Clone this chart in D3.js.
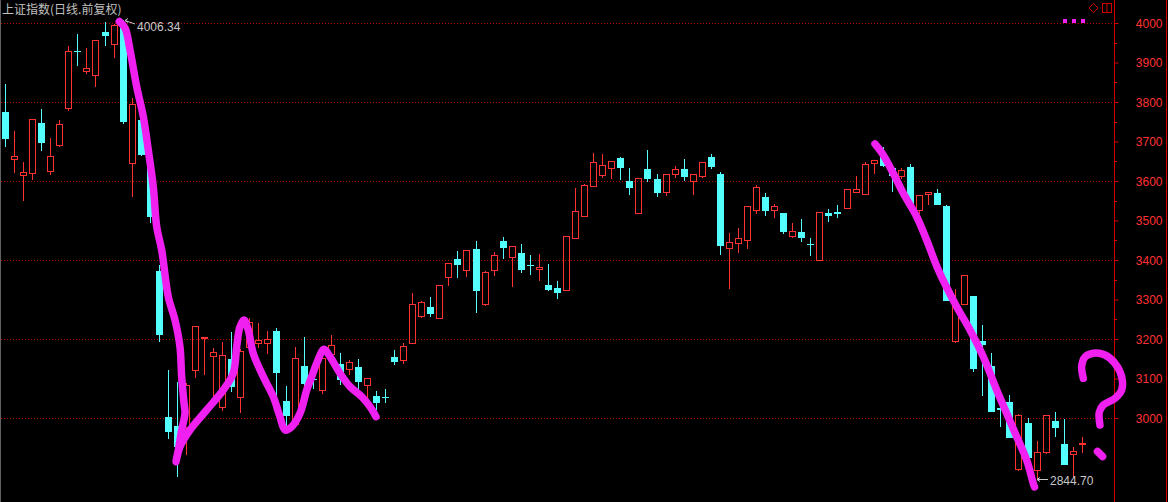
<!DOCTYPE html>
<html><head><meta charset="utf-8">
<script src="https://cdn.jsdelivr.net/npm/d3@7"></script>
<style>html,body{margin:0;padding:0;background:#000;overflow:hidden}svg{display:block}</style>
</head><body>
<svg id="chart" width="1168" height="502"></svg>
<script>
// ---------------- data (上证指数 日线 前复权) ----------------
const openVals = [3774.7,3654.9,3614.4,3621.0,3746.8,3624.5,3691.9,3785.5,3928.3,3879.2,3869.1,3977.2,3947.6,3990.0,3646.3,3754.4,3640.0,3372.1,3002.5,2979.7,
2976.4,3122.3,3201.8,3156.2,3027.1,3149.4,3052.4,3180.5,3189.1,3189.1,3220.2,3043.0,2984.8,3131.6,3098.0,3070.1,3161.3,3135.9,3124.8,3129.1,
3084.3,3055.7,3053.5,3154.4,3145.6,3190.6,3259.0,3281.0,3253.9,3356.2,3402.5,3375.4,3427.8,3289.4,3375.4,3448.1,3408.3,3417.7,3387.3,3377.9,
3336.7,3329.1,3324.8,3456.4,3512.1,3588.1,3615.9,3633.6,3657.4,3599.2,3519.7,3629.6,3604.3,3572.9,3618.5,3629.6,3600.7,3613.4,3660.0,3617.7,
3431.1,3442.3,3449.9,3525.8,3559.5,3527.3,3519.0,3461.5,3470.9,3441.0,3400.7,3518.2,3521.5,3532.4,3572.9,3567.8,3644.8,3665.8,3632.1,3613.4,
3635.4,3527.3,3566.3,3569.6,3536.7,3195.7,3289.4,3308.8,3194.9,3131.6,3026.1,3040.5,2871.6,2986.6,2868.3,2913.2,2991.6,2934.2,2908.9,2935.0];
const highVals = [3845.5,3726.6,3648.1,3756.9,3782.3,3708.8,3754.4,3941.7,3972.1,3936.7,3956.2,4002.5,3998.0,4006.34,3809.3,3770.0,3655.0,3387.3,3121.5,3091.1,
3088.6,3232.1,3205.0,3177.2,3191.6,3217.7,3175.0,3252.4,3240.5,3220.2,3228.6,3081.0,3179.7,3205.0,3117.2,3158.0,3210.1,3164.6,3146.8,3149.4,
3100.5,3068.3,3073.4,3172.1,3190.6,3316.4,3296.2,3306.3,3336.7,3392.4,3422.8,3425.3,3448.1,3372.1,3420.2,3458.2,3435.4,3440.5,3412.6,3415.2,
3389.9,3346.8,3460.7,3582.3,3593.1,3670.9,3668.3,3649.9,3660.0,3632.9,3606.8,3678.5,3616.9,3616.9,3638.0,3655.7,3616.9,3647.3,3667.6,3622.0,
3467.6,3481.0,3535.9,3589.1,3569.6,3541.8,3519.0,3493.7,3503.8,3455.7,3520.7,3529.1,3539.2,3579.0,3612.6,3648.1,3653.1,3686.1,3633.0,3632.1,
3643.0,3564.5,3571.4,3579.7,3539.2,3326.6,3361.2,3308.8,3235.4,3164.5,3030.0,3058.2,3009.3,2999.2,2941.8,3006.8,3014.4,2996.7,2926.6,2951.1];
const lowVals = [3686.8,3621.0,3550.1,3602.5,3676.7,3615.9,3686.8,3777.9,3891.1,3871.6,3838.7,3942.5,3910.6,3745.0,3560.2,3664.0,3492.9,3193.2,2947.6,2851.4,
2906.3,3102.0,3108.8,3045.6,3018.5,3066.6,3011.9,3180.5,3176.4,3162.0,3003.3,2969.6,2984.8,3045.6,3072.6,3061.5,3161.3,3083.5,3109.6,3070.9,
3050.6,3020.2,3038.7,3133.4,3137.5,3188.1,3253.9,3256.4,3253.9,3334.9,3355.2,3357.7,3266.6,3284.3,3360.2,3402.5,3332.4,3367.8,3362.7,3347.6,
3322.3,3302.0,3324.8,3456.4,3508.8,3588.1,3608.3,3605.0,3602.5,3565.3,3519.7,3598.2,3560.2,3562.8,3608.3,3600.7,3565.3,3608.3,3631.1,3413.4,
3327.3,3418.5,3428.6,3517.2,3512.1,3507.1,3466.6,3456.4,3446.3,3410.9,3400.7,3496.9,3507.1,3532.4,3570.4,3567.8,3618.5,3636.0,3572.9,3604.3,
3535.0,3517.2,3539.2,3540.0,3296.9,3190.6,3289.4,3117.2,3056.4,3015.9,2978.0,2950.1,2865.8,2899.5,2844.70,2908.1,2952.6,2880.3,2851.4,2912.2];
const closeVals = [3707.1,3663.3,3622.0,3756.9,3696.9,3663.3,3743.5,3928.3,3926.5,3886.0,3956.2,3967.8,3994.9,3750.1,3794.2,3666.6,3509.6,3210.9,2965.3,2927.3,
3083.5,3232.1,3205.0,3166.3,3159.5,3079.2,3169.6,3243.0,3197.5,3199.2,3114.7,3005.8,3151.1,3086.8,3096.0,3151.9,3184.0,3096.2,3141.0,3091.9,
3100.5,3038.7,3052.0,3141.8,3181.5,3288.6,3293.7,3264.0,3336.7,3392.4,3388.1,3425.3,3322.3,3369.6,3412.6,3431.1,3435.4,3375.4,3385.5,3382.3,
3324.8,3317.2,3460.7,3524.0,3589.1,3647.3,3639.7,3649.9,3633.6,3583.0,3606.8,3605.8,3570.4,3616.9,3629.6,3610.9,3616.9,3647.3,3636.2,3436.2,
3444.8,3454.9,3535.9,3584.0,3524.8,3535.9,3471.6,3472.6,3456.4,3438.7,3520.7,3512.1,3517.2,3579.0,3579.0,3643.0,3653.1,3638.0,3613.9,3627.8,
3539.2,3564.5,3571.4,3540.0,3296.9,3283.5,3361.2,3124.8,3185.5,3015.9,3020.2,2950.1,3006.8,2899.5,2913.2,3006.8,2975.5,2880.3,2916.4,2936.5];

const yTickValues = [3000,3100,3200,3300,3400,3500,3600,3700,3800,3900,4000];
const gridValues = [3000,3200,3400,3600,3800,4000];
const minorTickValues = [3050,3150,3250,3350,3450,3550,3650,3750,3850,3950];
const titleText = "上证指数(日线.前复权)";

// hand-drawn magenta annotations, as [bar index, price]
const strokeDown1 = [[12.58,4003.8],[13.21,3987.3],[13.76,3931.6],[14.50,3838.7],[15.23,3762.8],[15.78,3678.5],[16.33,3585.6],[16.71,3484.3],[17.26,3425.3],[17.99,3307.1],[18.73,3248.1],[19.28,3180.5],[19.47,3104.6],[19.73,3037.2],[19.84,3012.7],[19.47,2969.6],[19.10,2919.0],[18.84,2889.3],
[19.28,2927.4],[20.39,2969.6],[22.23,3020.2],[24.07,3070.9],[25.17,3113.2],[25.55,3180.5],[25.91,3231.1],[26.36,3248.1],[26.83,3222.8],[27.38,3163.8],[28.49,3104.6],[29.59,3054.0],[30.33,3003.3],[30.89,2969.6],[31.63,2978.0],[32.55,3011.9],[33.29,3070.9],[33.84,3104.6],[34.39,3138.5],[35.20,3174.0],[35.86,3155.2],[36.97,3113.2],[38.07,3079.3],[39.36,3054.0],[40.28,3028.6],[40.94,3003.3]];
const strokeDown2 = [[96.09,3693.7],[97.00,3665.8],[98.11,3619.5],[99.22,3568.9],[100.70,3509.6],[101.80,3450.6],[103.09,3374.7],[105.12,3281.8],[106.59,3222.8],[108.06,3155.2],[109.54,3070.9],[110.64,3011.9],[111.75,2952.6],[112.85,2893.6],[113.58,2834.7],[113.72,2825.3]];
const strokeQuestion = [[119.11,3100.5],[118.93,3131.6],[119.30,3154.4],[120.21,3163.8],[121.50,3159.5],[122.61,3138.5],[123.35,3104.6],[123.35,3070.9],[122.61,3049.9],[121.32,3032.9],[120.88,3015.2],[120.95,2982.3]];
const strokeDot = [[120.68,2915.2],[121.24,2902.5]];

// ---------------- drawing ----------------
const W = 1168, H = 502;
const axisX = 1114;
const svg = d3.select("#chart");
svg.append("rect").attr("width", W).attr("height", H).attr("fill", "#000");

const n = openVals.length;
const x = d3.scaleLinear().domain([0, n - 1]).range([5.5, 1082.3]);
const y = d3.scaleLinear().domain([3000, 4000]).range([418, 23]);

const RED = "#ff3232", CYAN = "#54ffff", MAG = "#f020f0";

// left border
svg.append("line").attr("x1", 0.5).attr("x2", 0.5).attr("y1", 0).attr("y2", H)
  .attr("stroke", "#606060");

// grid
svg.append("g").selectAll("line").data(gridValues).join("line")
  .attr("x1", 1).attr("x2", axisX)
  .attr("y1", d => Math.round(y(d)) + 0.5).attr("y2", d => Math.round(y(d)) + 0.5)
  .attr("stroke", "#b00000").attr("stroke-dasharray", "1,2");

// right axis
const axis = d3.axisRight(y).tickValues(yTickValues).tickSize(4).tickFormat(d3.format("d"));
const gAxis = svg.append("g").attr("transform", `translate(${axisX + 0.5},0)`).call(axis);
gAxis.select(".domain").attr("stroke", "#d00000").attr("d", `M0,0V${H}`);
gAxis.selectAll(".tick line").attr("stroke", "#d00000");
gAxis.selectAll(".tick text").attr("fill", RED).attr("x", 48).attr("text-anchor", "end")
  .attr("font-family", "Liberation Sans, Arial, sans-serif").attr("font-size", 12).attr("dy", "0.36em");
svg.append("g").selectAll("line").data(minorTickValues).join("line")
  .attr("x1", axisX).attr("x2", axisX + 3)
  .attr("y1", d => Math.round(y(d)) + 0.5).attr("y2", d => Math.round(y(d)) + 0.5)
  .attr("stroke", "#d00000");
svg.append("line").attr("x1", W - 1.5).attr("x2", W - 1.5).attr("y1", 0).attr("y2", H).attr("stroke", "#d00000");

// candles
const bars = d3.range(n).map(i => ({i, o: openVals[i], h: highVals[i], l: lowVals[i], c: closeVals[i]}));
const g = svg.append("g").attr("shape-rendering", "crispEdges");
bars.forEach(d => {
  const px = Math.floor(x(d.i));
  const up = d.c >= d.o;
  const top = Math.round(y(Math.max(d.o, d.c)));
  const bot = Math.round(y(Math.min(d.o, d.c)));
  const yh = Math.round(y(d.h)), yl = Math.round(y(d.l));
  const col = up ? RED : CYAN;
  if (up) {
    if (yh < top) g.append("line").attr("x1", px + 0.5).attr("x2", px + 0.5).attr("y1", yh).attr("y2", top).attr("stroke", col);
    if (yl > bot) g.append("line").attr("x1", px + 0.5).attr("x2", px + 0.5).attr("y1", bot).attr("y2", yl).attr("stroke", col);
    if (bot - top < 1) {
      g.append("line").attr("x1", px - 3).attr("x2", px + 4).attr("y1", top + 0.5).attr("y2", top + 0.5).attr("stroke", col);
    } else {
      g.append("rect").attr("x", px - 2.5).attr("y", top + 0.5).attr("width", 6).attr("height", bot - top)
        .attr("fill", "none").attr("stroke", col);
    }
  } else {
    g.append("line").attr("x1", px + 0.5).attr("x2", px + 0.5).attr("y1", yh).attr("y2", yl).attr("stroke", col);
    g.append("rect").attr("x", px - 3).attr("y", top).attr("width", 7).attr("height", Math.max(bot - top, 1)).attr("fill", col);
  }
});

// highest / lowest markers
const iMax = d3.maxIndex(highVals), iMin = d3.minIndex(lowVals);
const hx = Math.floor(x(iMax)) + 1, hy = y(highVals[iMax]);
svg.append("path").attr("d", `M${hx + 11},${hy + 3.5} L${hx + 1},${hy} M${hx + 1},${hy} l3,-2 M${hx + 1},${hy} l3,2`)
  .attr("stroke", "#c8c8c8").attr("fill", "none");
svg.append("text").attr("x", hx + 13).attr("y", hy + 10.5).text(highVals[iMax].toFixed(2))
  .attr("fill", "#c8c8c8").attr("font-family", "Liberation Sans, Arial, sans-serif").attr("font-size", 12);
const lx = Math.floor(x(iMin)), ly = Math.round(y(lowVals[iMin])) + 0.5;
svg.append("path").attr("d", `M${lx + 11},${ly} L${lx},${ly} M${lx},${ly} l3,-2 M${lx},${ly} l3,2`)
  .attr("stroke", "#c8c8c8").attr("fill", "none");
svg.append("text").attr("x", lx + 13).attr("y", ly + 5).text(lowVals[iMin].toFixed(2))
  .attr("fill", "#c8c8c8").attr("font-family", "Liberation Sans, Arial, sans-serif").attr("font-size", 12);

// title
svg.append("text").attr("x", 2).attr("y", 14).text(titleText)
  .attr("fill", "#c0c0c0").attr("font-family", "Noto Sans CJK SC, sans-serif").attr("font-size", 12);

// top-right icons
svg.append("path").attr("d", "M1093.5,3.5 L1098,8 L1093.5,12.5 L1089,8 Z").attr("fill", "none").attr("stroke", "#d00000");
svg.append("rect").attr("x", 1102.5).attr("y", 3.5).attr("width", 9).attr("height", 9).attr("fill", "none").attr("stroke", "#d00000");
svg.append("line").attr("x1", 1107).attr("x2", 1107).attr("y1", 3.5).attr("y2", 12.5).attr("stroke", "#d00000");
[1065, 1074, 1083].forEach(cx => {
  svg.append("rect").attr("x", cx - 2).attr("y", 19).attr("width", 4).attr("height", 4).attr("fill", MAG);
});

// annotations
const line = d3.line().x(d => x(d[0])).y(d => y(d[1])).curve(d3.curveCatmullRom.alpha(0.5));
[strokeDown1, strokeDown2, strokeQuestion, strokeDot].forEach(pts => {
  svg.append("path").attr("d", line(pts)).attr("fill", "none").attr("stroke", MAG)
    .attr("stroke-width", 7.5).attr("stroke-linecap", "round").attr("stroke-linejoin", "round");
});
</script>
</body></html>
